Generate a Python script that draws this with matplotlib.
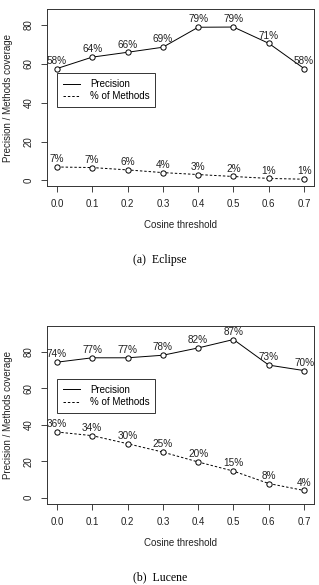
import matplotlib
matplotlib.use("Agg")
import matplotlib.pyplot as plt
from matplotlib.lines import Line2D

# Cosine thresholds
thresholds = [0.0, 0.1, 0.2, 0.3, 0.4, 0.5, 0.6, 0.7]
x_ticklabels = ["0.0", "0.1", "0.2", "0.3", "0.4", "0.5", "0.6", "0.7"]

# Eclipse
eclipse_precision = [57.6, 63.5, 66.0, 68.6, 78.9, 79.0, 70.6, 57.6]
eclipse_methods = [6.9, 6.6, 5.4, 4.0, 3.0, 2.0, 1.0, 0.6]
eclipse_prec_labels = ["58%", "64%", "66%", "69%", "79%", "79%", "71%", "58%"]
eclipse_meth_labels = ["7%", "7%", "6%", "4%", "3%", "2%", "1%", "1%"]

# Lucene
lucene_precision = [74.2, 76.6, 76.6, 78.0, 82.0, 86.6, 72.6, 69.6]
lucene_methods = [36.0, 34.0, 29.6, 25.0, 19.6, 14.6, 7.8, 4.0]
lucene_prec_labels = ["74%", "77%", "77%", "78%", "82%", "87%", "73%", "70%"]
lucene_meth_labels = ["36%", "34%", "30%", "25%", "20%", "15%", "8%", "4%"]

y_ticks = [0, 20, 40, 60, 80]

W, H = 319, 585
plt.rcParams['font.family'] = ['Liberation Sans', 'DejaVu Sans']
fig = plt.figure(figsize=(W / 100, H / 100), dpi=100)


def px_axes(left, top, right, bottom):
    return fig.add_axes([left / W, 1 - bottom / H, (right - left) / W, (bottom - top) / H])


def panel(ax, prec, meth, prec_lab, meth_lab, ylim, legend_y):
    ax.plot(thresholds, prec, color='black', lw=0.7, marker='o', markersize=3.8,
            markerfacecolor='white', markeredgewidth=0.7)
    ax.plot(thresholds, meth, color='black', lw=0.7, dashes=(2.5, 2), marker='o',
            markersize=3.8, markerfacecolor='white', markeredgewidth=0.7)
    for xv, yv, t in zip(thresholds, prec, prec_lab):
        ax.annotate(t, (xv, yv), xytext=(0, 2), textcoords='offset points',
                    ha='center', va='bottom', fontsize=7.2, color='#222222')
    for xv, yv, t in zip(thresholds, meth, meth_lab):
        ax.annotate(t, (xv, yv), xytext=(0, 2), textcoords='offset points',
                    ha='center', va='bottom', fontsize=7.2, color='#222222')
    ax.set_xlim(-0.028, 0.728)
    ax.set_ylim(*ylim)
    ax.set_xticks(thresholds)
    ax.set_xticklabels(x_ticklabels)
    ax.set_yticks(y_ticks)
    ax.set_yticklabels([str(v) for v in y_ticks], rotation=90, va='center')
    ax.tick_params(axis='both', direction='out', length=4.5, width=0.6,
                   labelsize=7, colors='#222222', pad=5)
    for s in ax.spines.values():
        s.set_linewidth(0.7)
        s.set_color('#333333')
    ax.set_xlabel('Cosine threshold', fontsize=7, labelpad=8, color='#222222')
    ax.set_ylabel('Precision / Methods coverage', fontsize=7, labelpad=8, color='#222222')
    handles = [Line2D([], [], color='black', lw=0.7),
               Line2D([], [], color='black', lw=0.7, dashes=(2.5, 2))]
    leg = ax.legend(handles, ['Precision', '% of Methods'], loc='upper left',
                    bbox_to_anchor=(0.037, legend_y), fontsize=7,
                    frameon=True, fancybox=False, handlelength=1.8, borderpad=0.6,
                    labelspacing=0.25, handletextpad=1.0, borderaxespad=0)
    leg.get_frame().set_edgecolor('black')
    leg.get_frame().set_linewidth(0.7)


ax1 = px_axes(47, 9, 314, 186)
panel(ax1, eclipse_precision, eclipse_methods, eclipse_prec_labels,
      eclipse_meth_labels, (-2.9, 88.3), 0.638)
fig.text(160 / W, 1 - 260 / H, '(a)  Eclipse', ha='center', va='center',
         fontsize=8.5, family='Liberation Serif')

ax2 = px_axes(47, 326, 314, 504)
panel(ax2, lucene_precision, lucene_methods, lucene_prec_labels,
      lucene_meth_labels, (-3.4, 94.0), 0.703)
fig.text(160 / W, 1 - 577 / H, '(b)  Lucene', ha='center', va='center',
         fontsize=8.5, family='Liberation Serif')

fig.savefig('out.png', dpi=100)
